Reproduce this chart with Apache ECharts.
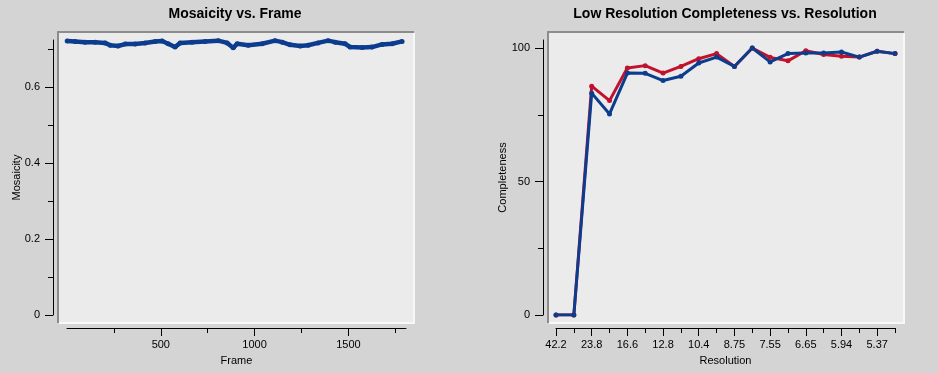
<!DOCTYPE html>
<html>
<head>
<meta charset="utf-8">
<script src="https://cdn.jsdelivr.net/npm/echarts@6/dist/echarts.min.js"></script>
<style>
html,body{margin:0;padding:0;background:#d4d4d4;}
#chart{width:938px;height:373px;}
</style>
</head>
<body>
<div id="chart"></div>
<script>
// ---- Left chart data: Mosaicity vs. Frame ----
const frames = [1, 43, 96, 150, 203, 230, 272, 310, 363, 416, 470, 507, 539, 576, 603, 667, 736, 806, 854, 886, 907, 966, 1040, 1109, 1147, 1189, 1243, 1285, 1338, 1392, 1429, 1482, 1509, 1573, 1626, 1679, 1733, 1786];
const mosaicity = [0.721, 0.720, 0.718, 0.718, 0.716, 0.710, 0.708, 0.713, 0.713, 0.716, 0.720, 0.721, 0.714, 0.705, 0.716, 0.718, 0.720, 0.722, 0.716, 0.703, 0.714, 0.710, 0.714, 0.722, 0.718, 0.711, 0.708, 0.710, 0.716, 0.722, 0.718, 0.714, 0.705, 0.704, 0.705, 0.712, 0.714, 0.720];
const frameMajorTicks = [500, 1000, 1500];
const frameMinorTicks = [250, 750, 1250, 1750];
const mosaicMajorTicks = [0, 0.2, 0.4, 0.6];
const mosaicMinorTicks = [0.1, 0.3, 0.5, 0.7];

// ---- Right chart data: Low Resolution Completeness vs. Resolution ----
const resolutionLabels = ['42.2', '23.8', '16.6', '12.8', '10.4', '8.75', '7.55', '6.65', '5.94', '5.37']; // every other bin
const binCount = 20;
const completenessRed  = [0, 0, 85.7, 80.3, 92.5, 93.4, 90.6, 93.1, 96.0, 97.9, 93.1, 100, 96.5, 95.2, 99.0, 97.6, 96.9, 96.6, 98.8, 97.9];
const completenessBlue = [0, 0, 83.1, 75.3, 90.6, 90.5, 87.8, 89.4, 94.4, 96.6, 93.1, 100, 94.8, 97.9, 98.1, 98.1, 98.5, 96.6, 98.8, 97.9];
const complMajorTicks = [0, 50, 100];
const complMinorTicks = [25, 75];

const binIdx = [];
for (let i = 0; i < binCount; i++) binIdx.push(i);
const binMajor = binIdx.filter(i => i % 2 === 0);
const binMinor = binIdx.filter(i => i % 2 === 1);

const FONT = 'Liberation Sans';
const BLUE = '#0b3c8e';
const RED = '#c1122c';

const chart = echarts.init(document.getElementById('chart'), null, {renderer: 'canvas'});

function plotFrame(x, y, w, h) {
  return [
    {type: 'rect', silent: true, z: -10, shape: {x: x, y: y, width: w, height: h}, style: {fill: '#ebebeb'}},
    {type: 'polyline', silent: true, z: -9, shape: {points: [[x + 1, y + h], [x + 1, y + 1], [x + w, y + 1]]}, style: {stroke: '#8c8c8c', lineWidth: 2, fill: null}},
    {type: 'polyline', silent: true, z: -9, shape: {points: [[x + 2, y + h], [x + w, y + h], [x + w, y + 2]]}, style: {stroke: '#f8f8f8', lineWidth: 2, fill: null}}
  ];
}

const axisLineStyle = {show: true, onZero: false, lineStyle: {color: '#000', width: 1}};
const labelStyle = {color: '#000', fontFamily: FONT, fontSize: 11};

function majorAxis(base) {
  return Object.assign({
    axisLine: axisLineStyle,
    splitLine: {show: false},
    nameTextStyle: {color: '#000', fontFamily: FONT, fontSize: 11},
    nameLocation: 'middle',
    nameMoveOverlap: false
  }, base);
}
function minorAxis(base) {
  return Object.assign({
    axisLine: {show: false, onZero: false},
    axisLabel: {show: false},
    splitLine: {show: false}
  }, base);
}

const option = {
  backgroundColor: '#d4d4d4',
  animation: false,
  title: [
    {text: 'Mosaicity vs. Frame', left: 235, top: 7, padding: 0, textAlign: 'center',
     textStyle: {fontFamily: FONT, fontWeight: 'bold', fontSize: 14, color: '#000'}},
    {text: 'Low Resolution Completeness vs. Resolution', left: 725, top: 7, padding: 0, textAlign: 'center',
     textStyle: {fontFamily: FONT, fontWeight: 'bold', fontSize: 14, color: '#000'}}
  ],
  graphic: plotFrame(57, 31, 357, 292).concat(plotFrame(547, 31, 357, 292)),
  grid: [
    {left: 67, width: 339, top: 40, height: 275, containLabel: false},
    {left: 556, width: 339, top: 40, height: 275, containLabel: false}
  ],
  xAxis: [
    majorAxis({type: 'value', gridIndex: 0, min: 0, max: 1807, position: 'bottom', offset: 13,
      name: 'Frame', nameGap: 27,
      axisTick: {show: true, length: 8, customValues: frameMajorTicks, lineStyle: {color: '#000'}},
      axisLabel: Object.assign({customValues: frameMajorTicks, margin: 11, formatter: v => String(v)}, labelStyle)}),
    minorAxis({type: 'value', gridIndex: 0, min: 0, max: 1807, position: 'bottom', offset: 13,
      axisTick: {show: true, length: 5, customValues: frameMinorTicks, lineStyle: {color: '#000'}}}),
    majorAxis({type: 'value', gridIndex: 1, min: 0, max: binCount - 1, position: 'bottom', offset: 13,
      name: 'Resolution', nameGap: 27,
      axisTick: {show: true, length: 8, customValues: binMajor, lineStyle: {color: '#000'}},
      axisLabel: Object.assign({customValues: binMajor, margin: 11,
        formatter: v => resolutionLabels[Math.round(v) / 2] || ''}, labelStyle)}),
    minorAxis({type: 'value', gridIndex: 1, min: 0, max: binCount - 1, position: 'bottom', offset: 13,
      axisTick: {show: true, length: 5, customValues: binMinor, lineStyle: {color: '#000'}}})
  ],
  yAxis: [
    majorAxis({type: 'value', gridIndex: 0, min: 0, max: 0.7237, position: 'left', offset: 14,
      name: 'Mosaicity', nameGap: 31, nameRotate: 90,
      axisTick: {show: true, length: 8, customValues: mosaicMajorTicks, lineStyle: {color: '#000'}},
      axisLabel: Object.assign({customValues: mosaicMajorTicks, margin: 13}, labelStyle)}),
    minorAxis({type: 'value', gridIndex: 0, min: 0, max: 0.7237, position: 'left', offset: 14,
      axisTick: {show: true, length: 5, customValues: mosaicMinorTicks, lineStyle: {color: '#000'}}}),
    majorAxis({type: 'value', gridIndex: 1, min: 0, max: 103, position: 'left', offset: 13,
      name: 'Completeness', nameGap: 35, nameRotate: 90,
      axisTick: {show: true, length: 8, customValues: complMajorTicks, lineStyle: {color: '#000'}},
      axisLabel: Object.assign({customValues: complMajorTicks, margin: 13}, labelStyle)}),
    minorAxis({type: 'value', gridIndex: 1, min: 0, max: 103, position: 'left', offset: 13,
      axisTick: {show: true, length: 5, customValues: complMinorTicks, lineStyle: {color: '#000'}}})
  ],
  series: [
    {name: 'Mosaicity', type: 'line', xAxisIndex: 0, yAxisIndex: 0,
     data: frames.map((f, i) => [f, mosaicity[i]]),
     symbol: 'circle', symbolSize: 5, showSymbol: true,
     lineStyle: {color: BLUE, width: 4.5}, itemStyle: {color: BLUE}},
    {name: 'Completeness (red)', type: 'line', xAxisIndex: 2, yAxisIndex: 2,
     data: binIdx.map(i => [i, completenessRed[i]]),
     symbol: 'circle', symbolSize: 5, showSymbol: true,
     lineStyle: {color: RED, width: 3}, itemStyle: {color: RED}},
    {name: 'Completeness (blue)', type: 'line', xAxisIndex: 2, yAxisIndex: 2,
     data: binIdx.map(i => [i, completenessBlue[i]]),
     symbol: 'circle', symbolSize: 5, showSymbol: true,
     lineStyle: {color: BLUE, width: 3}, itemStyle: {color: BLUE}}
  ]
};
chart.setOption(option);
</script>
</body>
</html>
